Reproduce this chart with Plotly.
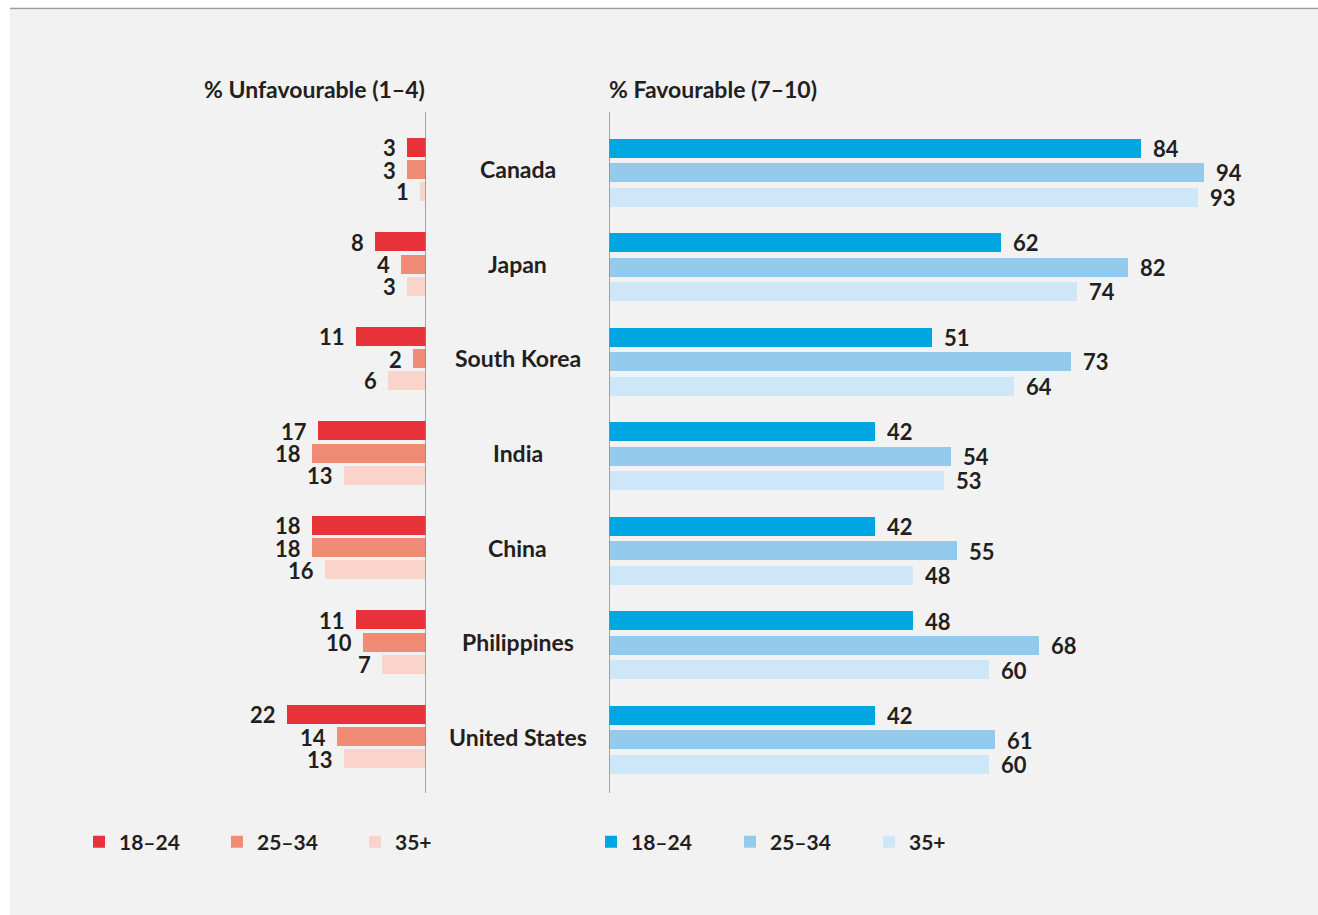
import plotly.graph_objects as go

# ---------------- data ----------------
countries = ["Canada", "Japan", "South Korea", "India", "China", "Philippines", "United States"]
age_groups = ["18–24", "25–34", "35+"]
unfav_18_24 = [3, 8, 11, 17, 18, 11, 22]
unfav_25_34 = [3, 4, 2, 18, 18, 10, 14]
unfav_35p = [1, 3, 6, 13, 16, 7, 13]
fav_18_24 = [84, 62, 51, 42, 42, 48, 42]
fav_25_34 = [94, 82, 73, 54, 55, 68, 61]
fav_35p = [93, 74, 64, 53, 48, 60, 60]

unfav = [unfav_18_24, unfav_25_34, unfav_35p]
fav = [fav_18_24, fav_25_34, fav_35p]

# ---------------- styles ----------------
W, H = 1318, 915
red_cols = ["#e8323a", "#f08b75", "#fad4ca"]
blue_cols = ["#00a6e2", "#94cbec", "#cde7f8"]
TXT = "#231f20"
FONT = "Lato, 'Open Sans', sans-serif"
GROUP_PX = 94.5
left_off = [-25.4 / GROUP_PX, -2.9 / GROUP_PX, 19.0 / GROUP_PX]
right_off = [-24.5 / GROUP_PX, 0.0, 24.5 / GROUP_PX]
BAR_W = 19 / GROUP_PX
PX_PER_UNIT = 6.33

fig = go.Figure()
idx = list(range(len(countries)))

for k in range(3):
    fig.add_trace(go.Bar(
        x=unfav[k], y=[i + left_off[k] for i in idx], orientation="h",
        width=BAR_W, marker=dict(color=red_cols[k], line=dict(width=0)),
        name=age_groups[k], xaxis="x", yaxis="y", legend="legend",
        hoverinfo="x+y"))
for k in range(3):
    fig.add_trace(go.Bar(
        x=fav[k], y=[i + right_off[k] for i in idx], orientation="h",
        width=BAR_W, marker=dict(color=blue_cols[k], line=dict(width=0)),
        name=age_groups[k], xaxis="x2", yaxis="y", legend="legend2",
        hoverinfo="x+y"))

NUM_FONT = dict(family=FONT, size=22, color=TXT, weight=700)
annotations = []
for k in range(3):
    for i in idx:
        annotations.append(dict(
            x=unfav[k][i], y=i + left_off[k], xref="x", yref="y",
            text=str(unfav[k][i]), showarrow=False, xanchor="right", yanchor="middle",
            xshift=-10, height=18, valign="middle", borderpad=0, font=NUM_FONT))
        annotations.append(dict(
            x=fav[k][i], y=i + right_off[k], xref="x2", yref="y",
            text=str(fav[k][i]), showarrow=False, xanchor="left", yanchor="middle",
            xshift=11, height=18, valign="middle", borderpad=0, font=NUM_FONT))

for i, c in enumerate(countries):
    annotations.append(dict(
        x=517.5 / W, y=i - 3 / GROUP_PX, xref="paper", yref="y", text=c,
        showarrow=False, xanchor="center", yanchor="middle",
        font=dict(family=FONT, size=23, color=TXT, weight=700)))

TITLE_FONT = dict(family=FONT, size=23, color=TXT, weight=700)
annotations.append(dict(x=427 / W, y=(H - 89) / H, xref="paper", yref="paper",
                        text="% Unfavourable (1–4)", showarrow=False, xanchor="right",
                        yanchor="middle", font=TITLE_FONT))
annotations.append(dict(x=607 / W, y=(H - 89) / H, xref="paper", yref="paper",
                        text="% Favourable (7–10)", showarrow=False, xanchor="left",
                        yanchor="middle", font=TITLE_FONT))

shapes = [
    dict(type="rect", xref="paper", yref="paper", x0=10 / W, x1=1, y0=0, y1=(H - 10) / H,
         fillcolor="#f2f2f2", line=dict(width=0), layer="below"),
    dict(type="line", xref="paper", yref="paper", x0=10 / W, x1=1, y0=(H - 8.5) / H,
         y1=(H - 8.5) / H, line=dict(color="#9c9c9c", width=1.5)),
    dict(type="line", xref="x", yref="paper", x0=0, x1=0, y0=(H - 793) / H, y1=(H - 112) / H,
         line=dict(color="#8a8a8a", width=1.5)),
    dict(type="line", xref="x2", yref="paper", x0=0, x1=0, y0=(H - 793) / H, y1=(H - 112) / H,
         line=dict(color="#8a8a8a", width=1.5)),
]

y_top = (112 - 172.5) / GROUP_PX
y_bot = (793 - 172.5) / GROUP_PX

LEG_FONT = dict(family=FONT, size=21, color=TXT, weight=700)
fig.update_layout(
    width=W, height=H, margin=dict(l=0, r=0, t=0, b=0),
    paper_bgcolor="white", plot_bgcolor="rgba(0,0,0,0)",
    barmode="overlay", bargap=0,
    xaxis=dict(domain=[10 / W, 426 / W], range=[416 / PX_PER_UNIT, 0], visible=False,
               anchor="y", fixedrange=True),
    xaxis2=dict(domain=[609 / W, 1], range=[0, 709 / PX_PER_UNIT], visible=False,
                anchor="y", fixedrange=True),
    yaxis=dict(domain=[(H - 793) / H, (H - 112) / H], range=[y_bot, y_top], visible=False,
               fixedrange=True),
    legend=dict(orientation="h", x=79 / W, y=(H - 842) / H, xanchor="left", yanchor="middle",
                entrywidth=93, entrywidthmode="pixels", bgcolor="rgba(0,0,0,0)",
                font=LEG_FONT, traceorder="normal"),
    legend2=dict(orientation="h", x=591 / W, y=(H - 842) / H, xanchor="left", yanchor="middle",
                 entrywidth=94, entrywidthmode="pixels", bgcolor="rgba(0,0,0,0)",
                 font=LEG_FONT, traceorder="normal"),
    annotations=annotations, shapes=shapes, showlegend=True,
    font=dict(family=FONT, color=TXT),
)

fig.write_html("out.html")
